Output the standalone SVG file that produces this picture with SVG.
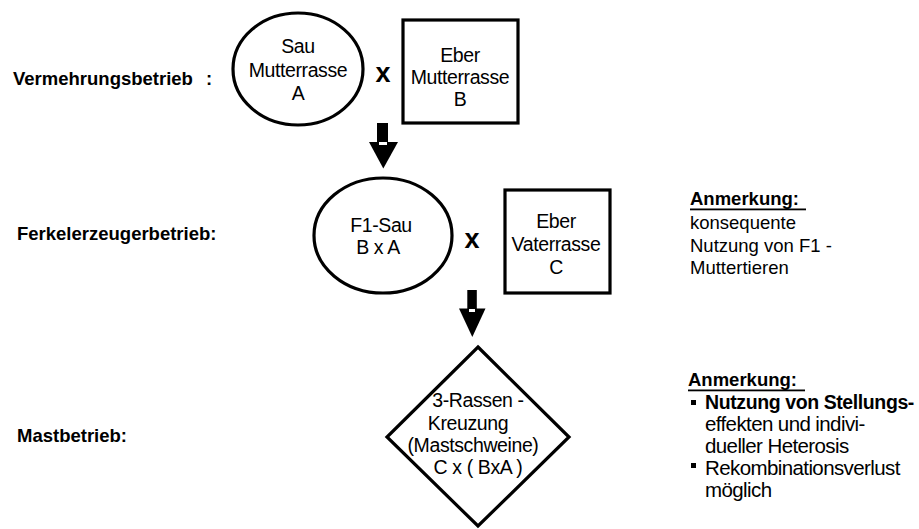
<svg xmlns="http://www.w3.org/2000/svg" width="919" height="529" viewBox="0 0 919 529">
<style>
text{font-family:"Liberation Sans",Arial,sans-serif;fill:#000}
.n{font-size:19.5px;letter-spacing:-0.4px;text-anchor:middle}
.lab{font-size:18.5px;font-weight:bold}
.x{font-size:27px;font-weight:bold;text-anchor:middle}
.a{font-size:18.5px}
.ab{font-size:18.5px;font-weight:bold}
.a2{font-size:20.5px;letter-spacing:-0.6px}
.a2b{font-size:19.5px;letter-spacing:-0.4px;font-weight:bold}
.shape{fill:#fff;stroke:#000;stroke-width:3.2}
</style>
<rect width="919" height="529" fill="#fff"/>
<g id="labels">
<text class="lab" x="13" y="85">Vermehrungsbetrieb</text>
<text class="lab" x="206" y="85">:</text>
<text class="lab" x="17" y="240">Ferkelerzeugerbetrieb:</text>
<text class="lab" x="17" y="442">Mastbetrieb:</text>
</g>
<g id="sauA">
<ellipse class="shape" cx="298" cy="69" rx="65" ry="56"/>
<text class="n" x="298" y="53">Sau</text>
<text class="n" x="298" y="77">Mutterrasse</text>
<text class="n" x="298" y="100">A</text>
</g>
<text class="x" x="383" y="82">x</text>
<g id="eberB">
<rect class="shape" x="403" y="20" width="115" height="103"/>
<text class="n" x="460" y="62">Eber</text>
<text class="n" x="460" y="84">Mutterrasse</text>
<text class="n" x="460" y="106">B</text>
</g>
<g id="f1sau">
<ellipse class="shape" cx="383" cy="235.5" rx="69" ry="57.5"/>
<text class="n" x="381" y="232">F1-Sau</text>
<text class="n" x="378" y="254">B x A</text>
</g>
<text class="x" x="472" y="248">x</text>
<g id="eberC">
<rect class="shape" x="505" y="190" width="105" height="103"/>
<text class="n" x="556" y="228">Eber</text>
<text class="n" x="556" y="251">Vaterrasse</text>
<text class="n" x="556" y="274">C</text>
</g>
<g id="kreuzung">
<polygon class="shape" points="478,347 569,437 478,526 387,437"/>
<text class="n" x="478" y="407">3-Rassen -</text>
<text class="n" x="468" y="430">Kreuzung</text>
<text class="n" x="473" y="452">(Mastschweine)</text>
<text class="n" x="478" y="474">C x ( BxA )</text>
</g>
<g id="connectors">
<g id="arrow1">
<rect x="377" y="123" width="11" height="20" fill="#000"/>
<polygon points="369,142 398,142 383.3,168.5" fill="#000"/>
<rect x="379" y="142" width="8" height="3" fill="#fff"/>
</g>
<g id="arrow2">
<rect x="467.3" y="290" width="9.5" height="20" fill="#000"/>
<polygon points="459,308.5 485.5,308.5 472.3,337" fill="#000"/>
<rect x="469" y="309" width="6" height="3" fill="#fff"/>
</g>
</g>
<g id="note1">
<text class="ab" x="690" y="205">Anmerkung:</text>
<rect x="690" y="208.5" width="116" height="1.8" fill="#000"/>
<text class="a" x="690" y="229">konsequente</text>
<text class="a" x="690" y="252">Nutzung von F1 -</text>
<text class="a" x="690" y="274">Muttertieren</text>
</g>
<g id="note2">
<text class="ab" x="688" y="386">Anmerkung:</text>
<rect x="688" y="389.5" width="117" height="1.8" fill="#000"/>
<rect x="691" y="400" width="5" height="5" fill="#000"/>
<text class="a2b" x="705" y="409">Nutzung von Stellungs-</text>
<text class="a2" x="705" y="431">effekten und indivi-</text>
<text class="a2" x="705" y="453">dueller Heterosis</text>
<rect x="691" y="463" width="5" height="5" fill="#000"/>
<text class="a2" x="705" y="475">Rekombinationsverlust</text>
<text class="a2" x="705" y="497">möglich</text>
</g>
</svg>
